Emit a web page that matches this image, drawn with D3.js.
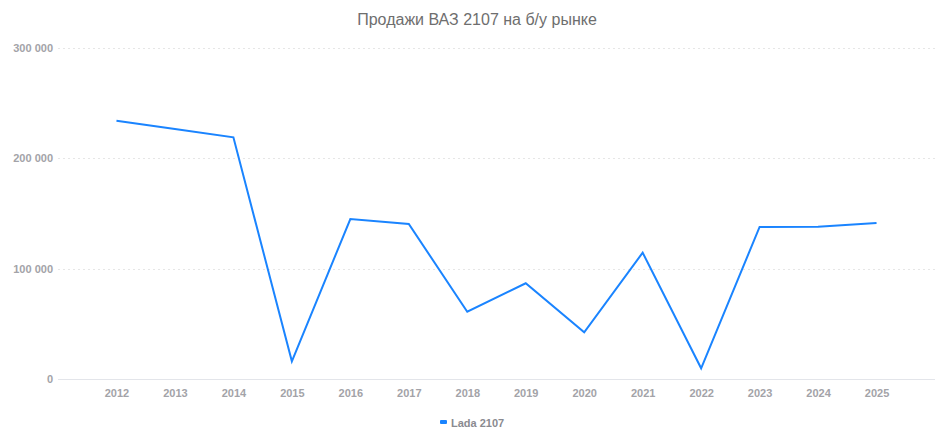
<!DOCTYPE html>
<html><head><meta charset="utf-8">
<script src="https://cdn.jsdelivr.net/npm/d3@7/dist/d3.min.js"></script>
<style>body{margin:0;background:#fff;}svg{display:block;}</style>
</head><body>
<svg id="c" width="945" height="434"></svg>
<script>
const title = "Продажи ВАЗ 2107 на б/у рынке";
const seriesName = "Lada 2107";
const years = ["2012","2013","2014","2015","2016","2017","2018","2019","2020","2021","2022","2023","2024","2025"];
const sales = [234000, 226500, 219000, 16000, 145000, 140500, 61000, 86800, 42300, 114500, 9700, 137800, 138000, 141400];
const yTicks = [0, 100000, 200000, 300000];

(function(){
const svg = d3.select("#c");
const mLeft = 58, mRight = 935, mTop = 48, mBottom = 379;
const font = "'Liberation Sans', Arial, sans-serif";
const color = "#1a84ff";

const x = d3.scalePoint().domain(years).range([mLeft, mRight]).padding(1);
const y = d3.scaleLinear().domain([0, 300000]).range([mBottom, mTop]);
const fmt = v => d3.format(",")(v).replace(/,/g, " ");

svg.append("text").attr("x", 477).attr("y", 25).attr("text-anchor", "middle")
  .attr("font-family", font).attr("font-size", 16).attr("fill", "#6e6e6e").text(title);

const yAxis = d3.axisLeft(y).tickValues(yTicks).tickSize(0).tickPadding(5).tickFormat(fmt);
const gy = svg.append("g").attr("transform", `translate(${mLeft},0)`).call(yAxis);
gy.select(".domain").remove();
gy.selectAll("text").attr("font-family", font).attr("font-size", 11).attr("font-weight", "bold").attr("fill", "#a3a3a8");
svg.append("g").selectAll("line").data(yTicks.filter(d => d > 0)).join("line")
  .attr("x1", mLeft).attr("x2", mRight).attr("y1", d => Math.round(y(d)) + 0.5).attr("y2", d => Math.round(y(d)) + 0.5)
  .attr("stroke", "#e6e6e6").attr("stroke-dasharray", "2,3");
svg.append("line").attr("x1", mLeft).attr("x2", mRight).attr("y1", Math.round(y(0)) + 0.5).attr("y2", Math.round(y(0)) + 0.5)
  .attr("stroke", "#e3e5ea");

const xAxis = d3.axisBottom(x).tickSize(0).tickPadding(10);
const gx = svg.append("g").attr("transform", `translate(0,${mBottom})`).call(xAxis);
gx.select(".domain").remove();
gx.selectAll("text").attr("font-family", font).attr("font-size", 11).attr("font-weight", "bold").attr("fill", "#a3a3a8");

const line = d3.line().x((d, i) => x(years[i])).y(d => y(d));
svg.append("path").datum(sales).attr("d", line).attr("fill", "none")
  .attr("stroke", color).attr("stroke-width", 2).attr("stroke-linejoin", "miter");

const lg = svg.append("g");
lg.append("rect").attr("x", 440).attr("y", 420).attr("width", 7).attr("height", 4).attr("rx", 1).attr("fill", color);
lg.append("text").attr("x", 451).attr("y", 427).attr("font-family", font).attr("font-size", 11)
  .attr("font-weight", "bold").attr("fill", "#8a8a90").text(seriesName);
})();
</script>
</body></html>
